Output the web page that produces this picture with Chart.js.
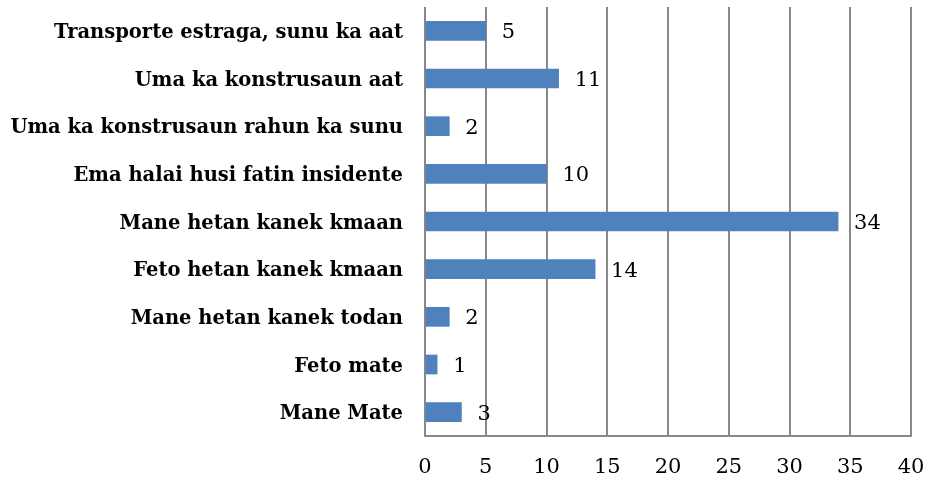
<!DOCTYPE html>
<html>
<head>
<meta charset="utf-8">
<script src="https://cdn.jsdelivr.net/npm/chart.js@4/dist/chart.umd.min.js"></script>
<style>
  html, body { margin: 0; padding: 0; background: #fff; }
  #wrap { width: 928px; height: 478px; }
</style>
</head>
<body>
<div id="wrap"><canvas id="c"></canvas></div>
<script>
const categories = [
  "Transporte estraga, sunu ka aat",
  "Uma ka konstrusaun aat",
  "Uma ka konstrusaun rahun ka sunu",
  "Ema halai husi fatin insidente",
  "Mane hetan kanek kmaan",
  "Feto hetan kanek kmaan",
  "Mane hetan kanek todan",
  "Feto mate",
  "Mane Mate"
];
const values = [5, 11, 2, 10, 34, 14, 2, 1, 3];
const xTicks = [0, 5, 10, 15, 20, 25, 30, 35, 40];

const SERIF = "'DejaVu Serif', 'Liberation Serif', serif";

// value labels to the right of each bar
const valueLabels = {
  id: "valueLabels",
  afterDatasetsDraw(chart) {
    const { ctx } = chart;
    const meta = chart.getDatasetMeta(0);
    ctx.save();
    ctx.font = "21px " + SERIF;
    ctx.fillStyle = "#000";
    ctx.textAlign = "left";
    ctx.textBaseline = "middle";
    meta.data.forEach((bar, i) => {
      ctx.fillText(String(values[i]), bar.x + 16, bar.y + 2);
    });
    ctx.restore();
  }
};

new Chart(document.getElementById("c"), {
  type: "bar",
  data: {
    labels: categories,
    datasets: [{
      data: values,
      backgroundColor: "#4F81BD",
      borderWidth: 0,
      barThickness: 19
    }]
  },
  options: {
    indexAxis: "y",
    responsive: true,
    maintainAspectRatio: false,
    animation: false,
    layout: { padding: { top: 7, right: 17, left: 0, bottom: 0 } },
    plugins: {
      legend: { display: false },
      tooltip: { enabled: false }
    },
    scales: {
      x: {
        min: 0,
        max: 40,
        afterBuildTicks(scale) {
          scale.ticks = xTicks.map(v => ({ value: v }));
        },
        grid: { color: "#888", lineWidth: 2, drawTicks: true, tickLength: 21, tickColor: "rgba(0,0,0,0)" },
        border: { display: true, color: "#888", width: 2 },
        ticks: {
          color: "#000",
          padding: 0,
          font: { family: SERIF, size: 21, lineHeight: 1 }
        },
        afterFit(scale) { scale.height = 42; }
      },
      y: {
        grid: { display: false, tickLength: 22 },
        border: { display: false },
        ticks: {
          color: "#000",
          padding: 0,
          labelOffset: 2,
          font: { family: SERIF, size: 19.5, weight: "bold", lineHeight: 0.7 }
        },
        afterFit(scale) { scale.width = 425; }
      }
    }
  },
  plugins: [valueLabels]
});
</script>
</body>
</html>
